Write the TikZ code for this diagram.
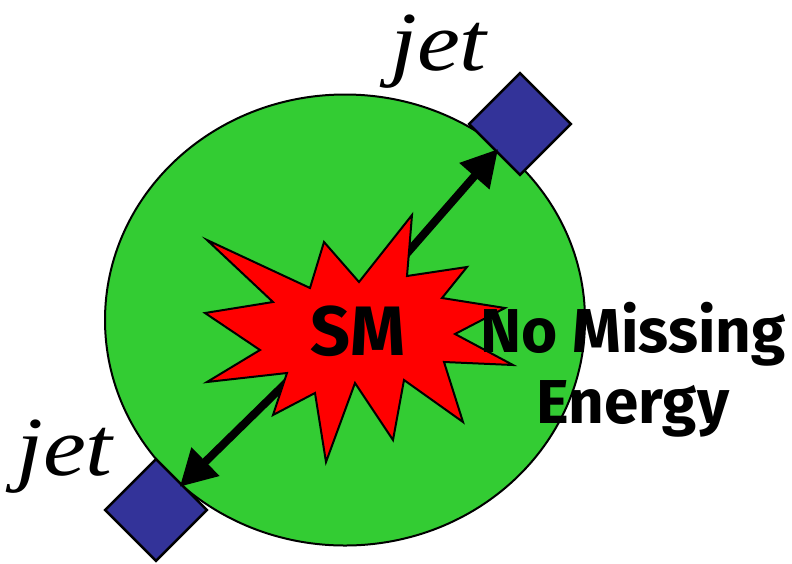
\documentclass[tikz,border=0pt]{standalone}
\usepackage{fontspec}
\setmainfont{Liberation Serif}
\newfontfamily\comicfont{Fira Sans}
\newfontfamily\jetfont[FakeStretch=1.15]{Liberation Serif}
\usetikzlibrary{arrows.meta,positioning}
\definecolor{blobgreen}{RGB}{51,204,51}
\definecolor{jetblue}{RGB}{51,51,153}
\definecolor{smred}{RGB}{255,0,0}

\begin{document}
\begin{tikzpicture}[x=1pt, y=-1pt,
    jetbox/.style={rectangle, draw, line width=2.5pt, fill=jetblue, rotate=45, minimum size=72pt, inner sep=0pt},
    jetlabel/.style={font=\jetfont\itshape\fontsize{84}{90}\selectfont, inner sep=0pt, anchor=base west},
    bigtxt/.style={font=\comicfont\bfseries\fontsize{62}{70}\selectfont, inner sep=0pt, anchor=base},
    jetarrow/.style={line width=8pt, -{Triangle[length=36pt,width=38pt]}, shorten >=-4pt},
    starburst/.style={draw, line width=2pt, fill=smred, line join=miter}
  ]
  \useasboundingbox (0,0) rectangle (792,563);

  % green event region
  \filldraw[fill=blobgreen, draw=black, line width=2pt] (345,320) ellipse [x radius=240, y radius=225.5];

  % jets
  \node (jetUp) [jetbox] at (520,124) {};
  \node (jetDown) [jetbox] at (156,510) {};
  \coordinate (vtx) at (340,330);

  \draw[jetarrow] (vtx) -- (jetUp);
  \draw[jetarrow] (vtx) -- (jetDown);

  % SM explosion
  \draw[starburst] (207,240) -- (310,288) -- (324,242) -- (359,282) -- (412,215) -- (407,276)
    -- (467,267) -- (442,298) -- (505,308) -- (455,334) -- (513,365) -- (444,362)
    -- (463,422) -- (404,380) -- (393,440) -- (355,383) -- (326,462) -- (315,393)
    -- (273,415) -- (287,373) -- (207,382) -- (260,350) -- (205,313) -- (273,302) -- cycle;

  % labels
  \node (sm) [bigtxt, font=\comicfont\bfseries\fontsize{70}{76}\selectfont] at (358,355) {SM};
  \node (noMiss) [bigtxt] at (633,352) {No Missing};
  \node (energy) [bigtxt] at ([yshift=-71pt]noMiss.base) {Energy};
  \node (jetUpTxt) [jetlabel] at (390,70) {jet};
  \node (jetDownTxt) [jetlabel] at (16,475) {jet};
\end{tikzpicture}
\end{document}
